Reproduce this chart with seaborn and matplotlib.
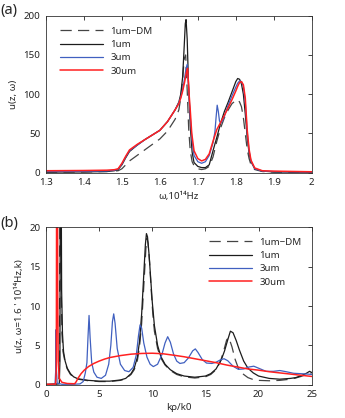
import matplotlib
matplotlib.use("Agg")
import matplotlib.pyplot as plt
import seaborn as sns
import pandas as pd

# ---------------- data: panel (a) ----------------
a_x_dm = [1.30, 1.40, 1.46, 1.49, 1.50, 1.51, 1.52, 1.54, 1.56, 1.58,
          1.60, 1.62, 1.64, 1.65, 1.655, 1.66, 1.664, 1.668, 1.672, 1.676,
          1.68, 1.685, 1.69, 1.70, 1.71, 1.72, 1.73, 1.74, 1.75, 1.76,
          1.77, 1.78, 1.79, 1.80, 1.805, 1.81, 1.815, 1.82, 1.825, 1.83,
          1.835, 1.84, 1.85, 1.87, 1.90, 2.00]
a_y_dm = [0.8, 1.0, 1.5, 2.5, 5, 10, 15, 22, 29, 36,
          43, 53, 68, 80, 95, 118, 145, 150, 105, 55,
          28, 14, 9, 5, 4, 5, 8, 20, 40, 57,
          70, 80, 88, 92, 93, 90, 84, 70, 50, 30,
          18, 10, 4, 1.5, 0.8, 0.5]

a_x_1 = [1.30, 1.40, 1.46, 1.48, 1.49, 1.50, 1.51, 1.52, 1.54, 1.56,
         1.58, 1.60, 1.62, 1.64, 1.65, 1.655, 1.66, 1.664, 1.667, 1.669,
         1.672, 1.675, 1.68, 1.685, 1.69, 1.70, 1.71, 1.72, 1.73, 1.74,
         1.75, 1.76, 1.77, 1.78, 1.79, 1.80, 1.805, 1.81, 1.815, 1.82,
         1.825, 1.83, 1.835, 1.84, 1.85, 1.87, 1.90, 2.00]
a_y_1 = [0.8, 1.0, 1.5, 2.5, 4, 10, 19, 27, 35, 42,
         48, 54, 65, 80, 90, 100, 122, 160, 190, 195,
         170, 120, 60, 26, 13, 8, 6.5, 6.5, 10, 28,
         45, 63, 78, 90, 103, 116, 120, 119, 113, 100,
         75, 45, 25, 14, 5, 2, 1, 0.5]

a_x_3 = [1.30, 1.40, 1.46, 1.48, 1.49, 1.50, 1.51, 1.52, 1.54, 1.56,
         1.58, 1.60, 1.62, 1.64, 1.65, 1.655, 1.66, 1.665, 1.669, 1.672,
         1.676, 1.68, 1.685, 1.69, 1.70, 1.71, 1.72, 1.73, 1.74, 1.745,
         1.748, 1.751, 1.754, 1.757, 1.76, 1.765, 1.77, 1.78, 1.79, 1.80,
         1.805, 1.81, 1.815, 1.82, 1.825, 1.83, 1.835, 1.84, 1.85, 1.87,
         1.90, 2.00]
a_y_3 = [1.5, 1.8, 2.2, 3, 4.5, 11, 20, 28, 35, 42,
         48, 54, 65, 80, 89, 96, 106, 120, 133, 138,
         105, 72, 40, 22, 14, 12, 14, 22, 38, 52,
         70, 86, 78, 66, 63, 66, 72, 86, 98, 109,
         114, 117, 116, 110, 90, 52, 28, 15, 5, 2,
         1.5, 0.8]

a_x_30 = [1.30, 1.40, 1.46, 1.48, 1.49, 1.50, 1.51, 1.52, 1.54, 1.56,
          1.58, 1.60, 1.62, 1.64, 1.65, 1.655, 1.66, 1.665, 1.67, 1.673,
          1.677, 1.68, 1.684, 1.69, 1.70, 1.71, 1.72, 1.73, 1.74, 1.75,
          1.76, 1.77, 1.78, 1.79, 1.80, 1.805, 1.81, 1.815, 1.82, 1.825,
          1.83, 1.835, 1.84, 1.85, 1.87, 1.90, 2.00]
a_y_30 = [2.5, 2.8, 3.2, 3.8, 5, 12, 21, 29, 36, 42,
          48, 54, 65, 80, 88, 95, 104, 115, 128, 133,
          100, 80, 50, 28, 18, 15, 17, 24, 40, 55,
          64, 73, 83, 93, 104, 110, 115, 116, 112, 95,
          55, 30, 16, 6, 2.5, 2, 1.2]

# ---------------- data: panel (b) ----------------
b_x_dm = [0, 1.2, 1.27, 1.31, 1.34, 1.38, 1.43, 1.5, 1.6, 1.8,
          2.0, 2.3, 2.6, 3.0, 4.0, 5.0, 6.0, 7.0, 7.5, 8.0,
          8.3, 8.6, 8.8, 9.0, 9.2, 9.4, 9.5, 9.6, 9.75, 9.9,
          10.05, 10.2, 10.5, 10.8, 11.2, 11.7, 12.3, 13.0, 14.0, 15.0,
          15.5, 16.0, 16.4, 16.7, 17.0, 17.2, 17.5, 17.8, 18.1, 18.5,
          19.0, 19.5, 20.0, 21.0, 22.0, 23.0, 23.5, 24.0, 24.5, 25.0]
b_y_dm = [0.02, 0.1, 3, 30, 60, 30, 12, 6.5, 4.2, 2.8,
          2.0, 1.3, 0.95, 0.7, 0.5, 0.4, 0.4, 0.55, 0.75, 1.3,
          1.9, 3.1, 4.8, 7.8, 12.5, 17.3, 18.6, 18.0, 15.5, 12.0,
          9.0, 6.8, 4.6, 3.4, 2.5, 1.8, 1.3, 1.0, 0.85, 1.0,
          1.3, 1.9, 2.9, 4.2, 5.7, 6.0, 4.8, 3.2, 2.1, 1.4,
          0.9, 0.65, 0.55, 0.5, 0.55, 0.7, 0.85, 1.05, 1.3, 1.5]

b_x_1 = [0, 1.25, 1.31, 1.35, 1.38, 1.42, 1.47, 1.55, 1.65, 1.8,
         2.0, 2.3, 2.6, 3.0, 4.0, 5.0, 6.0, 7.0, 7.5, 8.0,
         8.3, 8.6, 8.8, 9.0, 9.2, 9.35, 9.45, 9.55, 9.7, 9.85,
         10.0, 10.2, 10.5, 10.8, 11.2, 11.7, 12.3, 13.0, 14.0, 15.0,
         15.5, 16.0, 16.5, 16.8, 17.1, 17.35, 17.6, 17.9, 18.2, 18.6,
         19.0, 19.5, 20.0, 21.0, 22.0, 23.0, 23.5, 24.0, 24.5, 24.8,
         25.0]
b_y_1 = [0.02, 0.1, 3, 30, 60, 30, 12, 6.5, 4.2, 3.0,
         2.1, 1.4, 1.0, 0.75, 0.55, 0.45, 0.45, 0.6, 0.8, 1.4,
         2.1, 3.5, 5.5, 9.0, 14.0, 17.8, 19.2, 18.8, 16.5, 13.5,
         10.5, 7.5, 5.0, 3.6, 2.6, 1.9, 1.4, 1.1, 0.95, 1.1,
         1.4, 2.0, 3.2, 4.3, 5.7, 6.8, 6.6, 5.6, 4.4, 3.0,
         2.1, 1.5, 1.1, 0.8, 0.7, 0.8, 0.9, 1.15, 1.45, 1.7,
         1.55]

b_x_3 = [0, 0.85, 0.92, 0.95, 0.98, 1.05, 1.5, 2.5, 3.2, 3.5,
         3.7, 3.85, 3.95, 4.05, 4.15, 4.3, 4.5, 4.8, 5.2, 5.6,
         5.9, 6.1, 6.25, 6.37, 6.5, 6.7, 7.0, 7.4, 7.8, 8.2,
         8.5, 8.7, 8.85, 9.0, 9.2, 9.5, 9.8, 10.1, 10.5, 10.9,
         11.2, 11.45, 11.7, 12.0, 12.3, 12.6, 13.0, 13.4, 13.8, 14.05,
         14.3, 14.7, 15.1, 15.6, 16.0, 16.4, 16.75, 17.1, 17.6, 18.1,
         18.6, 19.1, 19.55, 20.0, 20.7, 21.4, 22.0, 22.6, 23.3, 24.0,
         24.6, 25.0]
b_y_3 = [0.02, 0.05, 2, 7, 2, 0.2, 0.05, 0.05, 0.1, 0.4,
         1.5, 2.8, 6.0, 8.8, 6.0, 2.8, 1.6, 0.95, 0.8, 1.2,
         2.6, 5.0, 8.0, 9.0, 7.8, 4.6, 2.6, 1.8, 1.65, 2.2,
         3.8, 6.2, 7.6, 7.2, 5.3, 3.5, 2.6, 2.3, 2.6, 3.8,
         5.3, 6.1, 5.4, 3.9, 3.0, 2.7, 2.8, 3.4, 4.3, 4.55,
         4.1, 3.2, 2.75, 2.7, 2.85, 3.15, 3.3, 3.05, 2.35, 1.95,
         2.0, 2.25, 2.35, 2.1, 1.7, 1.7, 1.8, 1.65, 1.45, 1.4,
         1.35, 1.3]

b_x_30 = [0, 0.9, 0.97, 1.02, 1.06, 1.10, 1.15, 1.25, 1.5, 2.0,
          2.7, 2.85, 3.0, 3.3, 3.6, 4.0, 4.5, 5.0, 5.5, 6.0,
          7.0, 8.0, 9.0, 10.0, 11.0, 12.0, 13.0, 14.0, 15.0, 16.0,
          17.0, 18.0, 19.0, 20.0, 21.0, 22.0, 23.0, 24.0, 25.0]
b_y_30 = [0.05, 0.08, 2, 40, 60, 12, 3, 0.8, 0.3, 0.15,
          0.12, 0.4, 0.8, 1.4, 1.85, 2.3, 2.7, 3.0, 3.25, 3.45,
          3.7, 3.88, 3.97, 4.0, 3.93, 3.75, 3.55, 3.3, 3.05, 2.8,
          2.5, 2.25, 2.0, 1.85, 1.65, 1.5, 1.35, 1.2, 1.05]

labels = ["1um\u2212DM", "1um", "3um", "30um"]
colors = ["#444444", "#1c1c1c", "#4060c0", "#ff2020"]

a_xticks = [1.3, 1.4, 1.5, 1.6, 1.7, 1.8, 1.9, 2.0]
a_xticklabels = ["1.3", "1.4", "1.5", "1.6", "1.7", "1.8", "1.9", "2"]
a_yticks = [0, 50, 100, 150, 200]
b_xticks = [0, 5, 10, 15, 20, 25]
b_yticks = [0, 5, 10, 15, 20]

# ---------------- style ----------------
sns.set_style("white")
plt.rcParams["font.family"] = ["Noto Sans", "DejaVu Sans"]
plt.rcParams["axes.linewidth"] = 0.6
plt.rcParams["axes.edgecolor"] = "#333333"

fig = plt.figure(figsize=(3.45, 4.18), dpi=100)
W, H = 345.0, 418.0
ax_a = fig.add_axes([46 / W, 1 - 172.7 / H, 265.7 / W, 157 / H])
ax_b = fig.add_axes([46 / W, 1 - 384.7 / H, 265.7 / W, 157.4 / H])


def draw(ax, series):
    for (xs, ys), lab, col in zip(series, labels, colors):
        df = pd.DataFrame({"x": xs, "y": ys})
        ls = "--" if lab.endswith("DM") else "-"
        lw = 1.1 if lab == "30um" else 0.9
        sns.lineplot(data=df, x="x", y="y", ax=ax, color=col, lw=lw,
                     linestyle=ls, label=lab, estimator=None, sort=False)
        if ls == "--":
            ax.lines[-1].set_dashes([9, 5])


draw(ax_a, [(a_x_dm, a_y_dm), (a_x_1, a_y_1), (a_x_3, a_y_3), (a_x_30, a_y_30)])
draw(ax_b, [(b_x_dm, b_y_dm), (b_x_1, b_y_1), (b_x_3, b_y_3), (b_x_30, b_y_30)])

fs = 7
for ax in (ax_a, ax_b):
    ax.tick_params(direction="in", top=True, right=True, length=3,
                   width=0.6, labelsize=fs, colors="#222222", pad=4)
    for s in ax.spines.values():
        s.set_visible(True)

ax_a.set_xlim(1.3, 2.0)
ax_a.set_ylim(0, 200)
ax_a.set_xticks(a_xticks)
ax_a.set_xticklabels(a_xticklabels)
ax_a.set_yticks(a_yticks)
ax_a.set_xlabel("\u03c9,10\u00b9\u2074Hz", fontsize=fs, labelpad=3)
ax_a.set_ylabel("u(z, \u03c9)", fontsize=fs, labelpad=4)

ax_b.set_xlim(0, 25)
ax_b.set_ylim(0, 20)
ax_b.set_xticks(b_xticks)
ax_b.set_yticks(b_yticks)
ax_b.set_xlabel("k\u03c1/k0", fontsize=fs, labelpad=3)
ax_b.set_ylabel("u(z, \u03c9=1.6 ' 10\u00b9\u2074Hz,k)", fontsize=fs, labelpad=4)

leg_kw = dict(frameon=False, fontsize=fs, handlelength=4.4, handletextpad=0.8,
              labelspacing=0.45, borderpad=0, borderaxespad=0, loc="upper left")
ax_a.legend(bbox_to_anchor=(0.053, 0.93), **leg_kw)
ax_b.legend(bbox_to_anchor=(0.613, 0.935), **leg_kw)

fig.text(0.002, 0.992, "(a)", fontsize=10.5, va="top", ha="left")
fig.text(0.002, 0.483, "(b)", fontsize=10.5, va="top", ha="left")

fig.savefig("out.png", dpi=100)
